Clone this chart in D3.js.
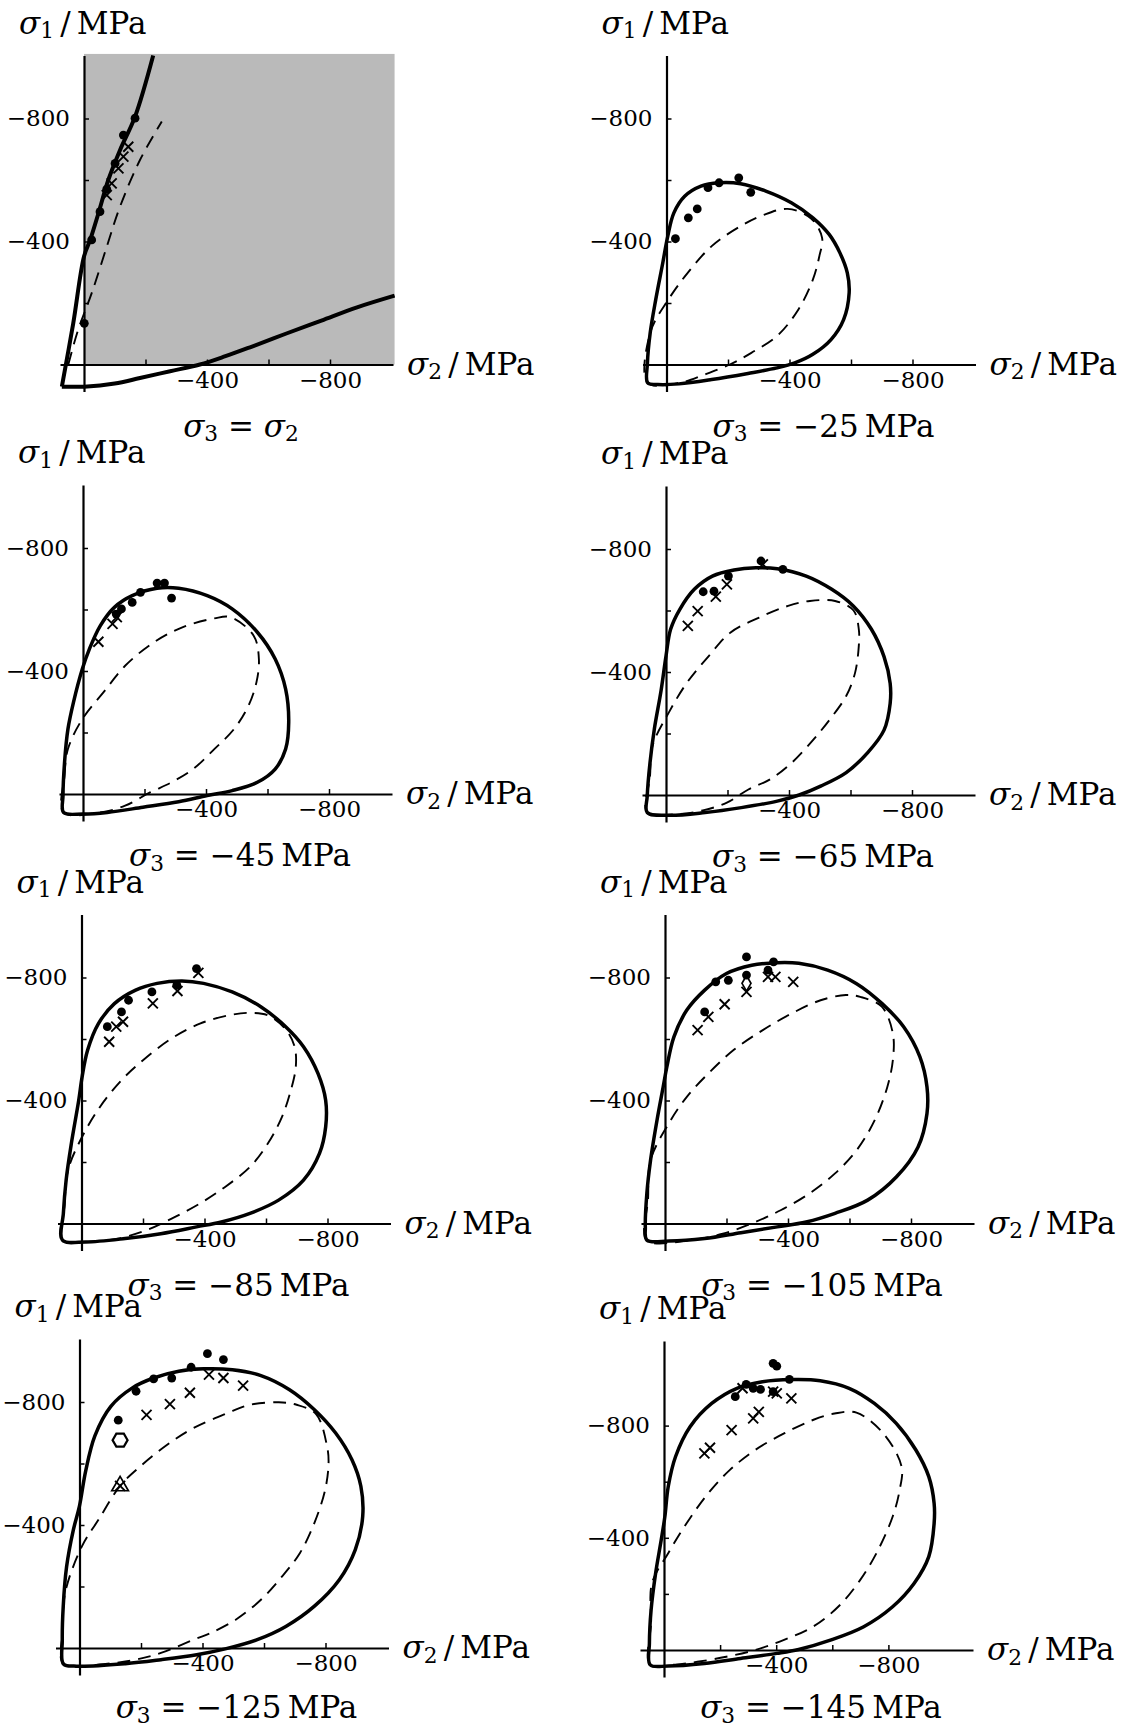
<!DOCTYPE html>
<html><head><meta charset="utf-8">
<script src="https://cdn.jsdelivr.net/npm/d3@7"></script>
<style>body{margin:0;background:#fff} svg{display:block}</style>
</head><body><svg id="c" width="1127" height="1730"></svg>
<script>
// ---------- DATA (values in MPa, pairs are [sigma2, sigma1]) ----------
const sigma3Labels = ["σ2", "−25", "−45", "−65", "−85", "−105", "−125", "−145"];
const tickValues = [-200, -400, -600, -800];
const labelledTicks = [-400, -800];

// panel 1 : sigma3 = sigma2
const solidUpperP1 = [[-225,-1005],[-166,-806],[-117,-697],[-79,-600],[-47,-492],[-20,-405],[0,-351],[35,-134],[72,72]];
const solidLowerP1 = [[72,72],[0,72],[-100,62],[-182,44],[-280,22],[-377,0],[-460,-27],[-540,-56],[-656,-100],[-772,-143],[-888,-186],[-1010,-224]];
const dashedP1 = [[51,0],[20,-110],[-25,-232],[-74,-383],[-117,-513],[-182,-665],[-253,-790]];
const dotsP1 = [[-166,-801],[-128,-746],[-101,-654],[-74,-570],[-52,-497],[-25,-405],[-1,-134]];
const crossesP1 = [[-144,-708],[-128,-676],[-112,-638],[-90,-589],[-74,-551]];
const shadeP1 = [[0,0],[-1010,-1010]];

// panel 2 : -25 MPa
const solidP2 = [[61,60],[29,65],[-41,63],[-147,49],[-265,29],[-359,11],[-417,-5],[-476,-33],[-535,-81],[-576,-146],[-594,-233],[-588,-298],[-564,-363],[-529,-423],[-476,-477],[-406,-526],[-323,-564],[-241,-588],[-171,-591],[-112,-580],[-59,-547],[-24,-493],[-4,-417],[12,-331],[35,-211],[53,-103],[62,-5]];
const dashedP2 = [[61,60],[53,-103],[-6,-211],[-65,-293],[-147,-385],[-241,-450],[-312,-485],[-394,-506],[-470,-475],[-506,-412],[-497,-352],[-476,-276],[-429,-179],[-359,-92],[-276,-38],[-206,0],[-123,33],[-50,58]];
const dotsP2 = [[-29,-409],[-71,-477],[-100,-506],[-135,-575],[-171,-591],[-235,-607],[-274,-560]];
const crossesP2 = [];

// panel 3 : -45 MPa
const solidP3 = [[63,60],[0,65],[-79,60],[-195,43],[-311,25],[-404,5],[-485,-11],[-567,-38],[-625,-81],[-659,-146],[-669,-233],[-659,-341],[-625,-439],[-567,-526],[-485,-602],[-404,-645],[-311,-669],[-241,-669],[-160,-645],[-102,-607],[-56,-547],[-21,-472],[2,-407],[31,-298],[49,-211],[60,-103],[65,5]];
const dashedP3 = [[63,60],[60,-60],[49,-146],[2,-244],[-67,-331],[-137,-417],[-230,-493],[-323,-542],[-427,-571],[-479,-575],[-555,-515],[-572,-439],[-564,-363],[-538,-287],[-491,-211],[-427,-146],[-358,-81],[-288,-38],[-218,-5],[-137,38],[-56,60]];
const dotsP3 = [[-241,-686],[-265,-686],[-187,-656],[-160,-623],[-125,-602],[-108,-585],[-288,-637]];
const crossesP3 = [[-50,-495],[-96,-553],[-110,-575]];

// panel 4 : -65 MPa
const solidP4 = [[61,57],[-9,66],[-127,57],[-245,41],[-362,20],[-433,0],[-503,-29],[-586,-73],[-656,-138],[-709,-211],[-729,-298],[-729,-363],[-709,-450],[-668,-539],[-609,-615],[-539,-669],[-456,-712],[-362,-736],[-292,-739],[-221,-732],[-151,-712],[-92,-669],[-45,-604],[-15,-539],[0,-452],[16,-340],[38,-214],[52,-105],[61,3]];
const dashedP4 = [[61,57],[52,-60],[44,-159],[-9,-268],[-68,-365],[-139,-452],[-209,-528],[-303,-577],[-397,-615],[-468,-631],[-550,-631],[-610,-600],[-627,-539],[-627,-485],[-615,-398],[-586,-322],[-533,-246],[-480,-181],[-409,-105],[-339,-51],[-268,-18],[-198,25],[-120,50],[-40,62]];
const dotsP4 = [[-309,-761],[-380,-734],[-203,-712],[-156,-663],[-121,-661]];
const crossesP4 = [[-315,-750],[-198,-685],[-162,-645],[-103,-598],[-71,-550]];

// panel 5 : -85 MPa
const solidP5 = [[62,54],[-14,60],[-142,49],[-258,33],[-374,11],[-455,-5],[-548,-33],[-641,-76],[-722,-141],[-774,-228],[-794,-314],[-794,-401],[-769,-488],[-722,-575],[-664,-640],[-583,-705],[-490,-753],[-397,-781],[-327,-789],[-246,-781],[-176,-759],[-107,-715],[-55,-650],[-20,-564],[-2,-477],[9,-401],[33,-260],[50,-141],[59,-33]];
const dashedP5 = [[62,54],[55,-60],[44,-173],[-2,-282],[-60,-379],[-130,-466],[-200,-531],[-293,-602],[-385,-650],[-478,-677],[-548,-685],[-606,-677],[-665,-630],[-693,-575],[-697,-510],[-681,-434],[-652,-347],[-606,-260],[-548,-184],[-467,-119],[-385,-65],[-293,-16],[-211,22],[-118,49],[-40,58]];
const dotsP5 = [[-374,-829],[-310,-775],[-229,-753],[-153,-726],[-130,-688],[-84,-640]];
const crossesP5 = [[-380,-815],[-312,-756],[-232,-716],[-135,-656],[-113,-640],[-90,-591]];

// panel 6 : -105 MPa
const solidP6 = [[59,54],[-12,57],[-129,49],[-247,30],[-365,11],[-459,-5],[-553,-33],[-659,-76],[-753,-152],[-823,-249],[-852,-358],[-852,-444],[-829,-542],[-776,-640],[-706,-715],[-623,-780],[-529,-824],[-435,-846],[-365,-848],[-282,-840],[-200,-813],[-129,-759],[-71,-694],[-29,-607],[-6,-509],[6,-444],[26,-336],[47,-206],[59,-98],[64,11]];
const dashedP6 = [[59,54],[55,-80],[47,-206],[-12,-325],[-71,-412],[-141,-488],[-223,-564],[-318,-629],[-412,-683],[-506,-726],[-588,-743],[-635,-737],[-705,-705],[-741,-618],[-741,-531],[-723,-444],[-682,-336],[-623,-238],[-553,-163],[-470,-98],[-376,-43],[-282,0],[-188,33],[-82,54]];
const dotsP6 = [[-265,-867],[-353,-851],[-165,-786],[-206,-791],[-265,-808],[-335,-824],[-129,-688]];
const crossesP6 = [[-106,-629],[-141,-672],[-194,-713],[-265,-753],[-335,-802],[-359,-802],[-417,-786]];
const diamondsP6 = [[-265,-781]];

// panel 7 : -125 MPa
const solidP7 = [[52,52],[9,59],[-149,51],[-265,38],[-381,22],[-474,3],[-578,-27],[-671,-70],[-764,-136],[-845,-222],[-897,-320],[-921,-428],[-915,-526],[-886,-612],[-833,-699],[-764,-775],[-683,-840],[-590,-886],[-497,-905],[-404,-908],[-323,-900],[-241,-878],[-172,-846],[-102,-786],[-50,-690],[-20,-575],[0,-462],[20,-384],[42,-264],[53,-134],[56,-26]];
const dashedP7 = [[52,52],[54,-60],[47,-178],[-7,-329],[-61,-416],[-132,-527],[-197,-590],[-284,-660],[-370,-715],[-479,-763],[-555,-791],[-648,-799],[-706,-791],[-770,-760],[-805,-656],[-810,-602],[-799,-515],[-764,-407],[-717,-309],[-659,-233],[-590,-157],[-508,-92],[-427,-49],[-381,-31],[-265,16],[-183,38],[-91,51]];
const dotsP7 = [[-416,-957],[-468,-938],[-363,-913],[-300,-878],[-241,-875],[-184,-835],[-126,-741]];
const crossesP7 = [[-421,-889],[-468,-878],[-532,-853],[-359,-830],[-294,-793],[-218,-758],[-132,-527]];
const hexagonsP7 = [[-132,-676]];
const trianglesP7 = [[-132,-527]];

// panel 8 : -145 MPa
const solidP8 = [[49,53],[-15,57],[-144,48],[-273,30],[-402,12],[-480,-2],[-596,-36],[-712,-83],[-815,-154],[-892,-238],[-944,-333],[-963,-451],[-963,-523],[-944,-618],[-898,-713],[-828,-808],[-750,-879],[-660,-933],[-557,-960],[-454,-964],[-351,-956],[-260,-933],[-170,-879],[-93,-796],[-41,-689],[-15,-582],[-3,-475],[10,-392],[30,-273],[46,-143],[52,-24]];
const dashedP8 = [[49,53],[46,-100],[43,-238],[-15,-345],[-80,-451],[-157,-558],[-235,-642],[-325,-713],[-428,-772],[-531,-820],[-608,-843],[-686,-846],[-782,-772],[-847,-653],[-840,-570],[-815,-475],[-763,-356],[-699,-249],[-621,-154],[-531,-83],[-428,-36],[-325,0],[-222,24],[-119,42],[-40,52]];
const dotsP8 = [[-389,-1022],[-402,-1012],[-447,-965],[-293,-947],[-318,-933],[-344,-929],[-254,-903],[-389,-921]];
const crossesP8 = [[-280,-933],[-389,-921],[-402,-915],[-454,-897],[-338,-849],[-318,-826],[-241,-784],[-164,-721],[-144,-701]];

// ---------- LAYOUT ----------
const K = 0.3075, K8 = 0.2805;
const layout = [
  {ox:84,    oy:364.5,  k:K},
  {ox:666.5, oy:364.5,  k:K},
  {ox:83,    oy:794,    k:K},
  {ox:666,   oy:795,    k:K},
  {ox:81.5,  oy:1223.5, k:K},
  {ox:665,   oy:1223.5, k:K},
  {ox:79.5,  oy:1648,   k:K},
  {ox:664,   oy:1650,   k:K8}
];
const panels = [
  {solidOpen:[solidUpperP1, solidLowerP1], dashedOpen:[dashedP1], dots:dotsP1, crosses:crossesP1, shade:shadeP1},
  {solid:solidP2, dashed:dashedP2, dots:dotsP2, crosses:crossesP2},
  {solid:solidP3, dashed:dashedP3, dots:dotsP3, crosses:crossesP3},
  {solid:solidP4, dashed:dashedP4, dots:dotsP4, crosses:crossesP4},
  {solid:solidP5, dashed:dashedP5, dots:dotsP5, crosses:crossesP5},
  {solid:solidP6, dashed:dashedP6, dots:dotsP6, crosses:crossesP6, diamonds:diamondsP6},
  {solid:solidP7, dashed:dashedP7, dots:dotsP7, crosses:crossesP7, hexagons:hexagonsP7, triangles:trianglesP7},
  {solid:solidP8, dashed:dashedP8, dots:dotsP8, crosses:crossesP8}
];

const FONT = "DejaVu Serif";
const svg = d3.select("#c");

function mathText(g, x, y, parts, size, anchor) {
  const t = g.append("text").attr("x", x).attr("y", y)
    .attr("font-family", FONT).attr("font-size", size)
    .attr("text-anchor", anchor || "start").attr("fill", "#000");
  parts.forEach(p => {
    const s = t.append("tspan").text(p.t);
    if (p.it) s.attr("font-style", "italic");
    if (p.sub) s.attr("font-size", size * 0.7).attr("dy", size * 0.16);
    if (p.after) s.attr("dy", -size * 0.16);
  });
  return t;
}

panels.forEach((p, i) => {
  const L = layout[i];
  const g = svg.append("g");
  const x = d3.scaleLinear().domain([0, -1000]).range([L.ox, L.ox + 1000 * L.k]);
  const y = d3.scaleLinear().domain([0, -1000]).range([L.oy, L.oy - 1000 * L.k]);

  if (p.shade) {
    g.append("rect")
      .attr("x", x(p.shade[0][0])).attr("y", y(p.shade[1][1]))
      .attr("width", x(p.shade[1][0]) - x(p.shade[0][0]))
      .attr("height", y(p.shade[0][1]) - y(p.shade[1][1]))
      .attr("fill", "#bababa");
  }

  // axes
  const xa = x.copy().domain([x.invert(L.ox - 24), x.invert(L.ox + 309)]).range([L.ox - 24, L.ox + 309]);
  const ya = y.copy().domain([y.invert(L.oy + 27), y.invert(L.oy - 309)]).range([L.oy + 27, L.oy - 309]);
  const fmt = d => labelledTicks.includes(d) ? "\u2212" + Math.abs(d) : "";
  const gx = g.append("g").attr("transform", `translate(0,${L.oy})`)
    .call(d3.axisBottom(xa).tickValues(tickValues).tickSizeInner(-5).tickSizeOuter(0).tickPadding(7).tickFormat(fmt));
  const gy = g.append("g").attr("transform", `translate(${L.ox},0)`)
    .call(d3.axisLeft(ya).tickValues(tickValues).tickSizeInner(-5).tickSizeOuter(0).tickPadding(14).tickFormat(fmt));
  [gx, gy].forEach(a => {
    a.select(".domain").attr("stroke", "#000").attr("stroke-width", 2.2);
    a.selectAll(".tick line").attr("stroke", "#000").attr("stroke-width", 1.5);
    a.selectAll(".tick text").attr("font-family", FONT).attr("font-size", 23).attr("fill", "#000");
  });

  const lineOpen = d3.line().x(d => x(d[0])).y(d => y(d[1])).curve(d3.curveCatmullRom.alpha(0.5));
  const lineClosed = d3.line().x(d => x(d[0])).y(d => y(d[1])).curve(d3.curveCatmullRomClosed.alpha(0.5));

  const dashStyle = s => s.attr("fill", "none").attr("stroke", "#000").attr("stroke-width", 1.9).attr("stroke-dasharray", "13,8");
  const solidStyle = (s, w) => s.attr("fill", "none").attr("stroke", "#000").attr("stroke-width", w).attr("stroke-linejoin", "round");

  if (p.dashed) g.append("path").attr("d", lineClosed(p.dashed)).call(dashStyle);
  if (p.dashedOpen) p.dashedOpen.forEach(d => g.append("path").attr("d", lineOpen(d)).call(dashStyle));
  if (p.solid) g.append("path").attr("d", lineClosed(p.solid)).call(solidStyle, 3.5);
  if (p.solidOpen) p.solidOpen.forEach(d => g.append("path").attr("d", lineOpen(d)).call(solidStyle, 4));

  // markers
  g.selectAll(null).data(p.dots || []).join("circle")
    .attr("cx", d => x(d[0])).attr("cy", d => y(d[1])).attr("r", 4.4).attr("fill", "#000");
  const cr = 5;
  g.selectAll(null).data(p.crosses || []).join("path")
    .attr("d", d => { const cx = x(d[0]), cy = y(d[1]); return `M${cx-cr},${cy-cr}L${cx+cr},${cy+cr}M${cx-cr},${cy+cr}L${cx+cr},${cy-cr}`; })
    .attr("stroke", "#000").attr("stroke-width", 1.9).attr("fill", "none");
  const sym = (data, type, size) => g.selectAll(null).data(data || []).join("path")
    .attr("transform", d => `translate(${x(d[0])},${y(d[1])})`)
    .attr("d", d3.symbol().type(type).size(size))
    .attr("fill", "none").attr("stroke", "#000").attr("stroke-width", 1.7);
  sym(p.diamonds, d3.symbolDiamond, 70);
  sym(p.triangles, d3.symbolTriangle, 120);
  const hex = d3.range(6).map(j => [7.5 * Math.cos(Math.PI / 3 * j), 7.5 * Math.sin(Math.PI / 3 * j)]);
  g.selectAll(null).data(p.hexagons || []).join("path")
    .attr("transform", d => `translate(${x(d[0])},${y(d[1])})`)
    .attr("d", "M" + hex.join("L") + "Z")
    .attr("fill", "none").attr("stroke", "#000").attr("stroke-width", 2.2);

  // labels
  mathText(g, L.ox - 65, L.oy - 331, [{t:"σ", it:true}, {t:"1", sub:true}, {t:"\u2009/\u2009MPa", after:true}], 31);
  mathText(g, L.ox + 323, L.oy + 10, [{t:"σ", it:true}, {t:"2", sub:true}, {t:"\u2009/\u2009MPa", after:true}], 31);
  const cap = sigma3Labels[i];
  const parts = cap === "σ2"
    ? [{t:"σ", it:true}, {t:"3", sub:true}, {t:" = ", after:true}, {t:"σ", it:true}, {t:"2", sub:true}]
    : [{t:"σ", it:true}, {t:"3", sub:true}, {t:" = " + cap + "\u2009MPa", after:true}];
  mathText(g, L.ox + 157, Math.min(L.oy + 72, 1718), parts, 31, "middle");
});
</script></body></html>
